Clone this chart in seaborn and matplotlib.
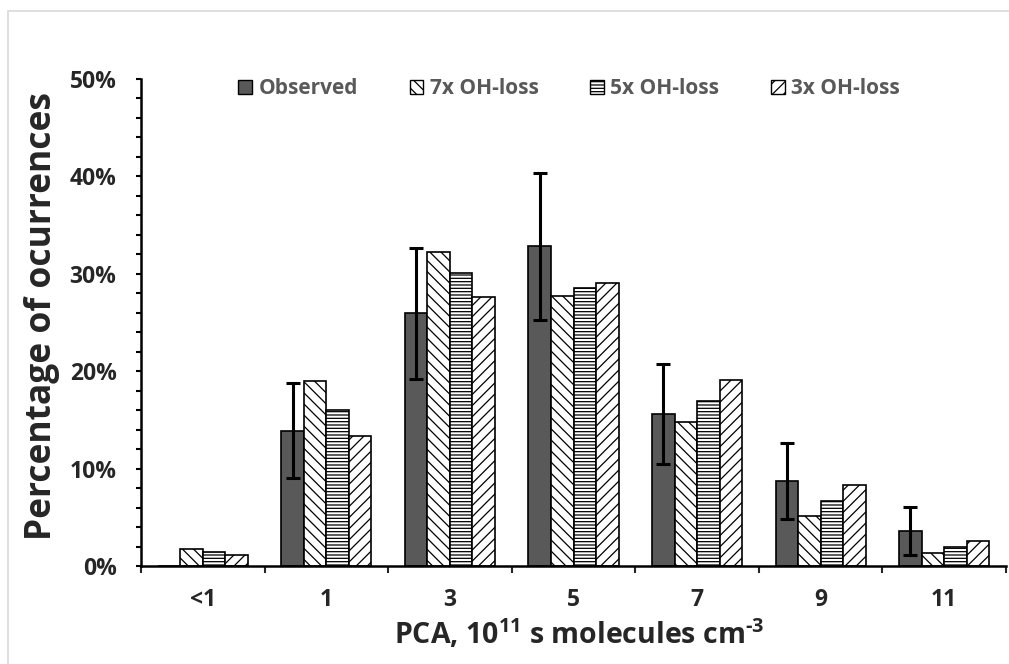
import numpy as np
import pandas as pd
import matplotlib
matplotlib.use("Agg")
import matplotlib.pyplot as plt
from matplotlib.patches import Patch, Rectangle
from matplotlib.ticker import MultipleLocator, FuncFormatter, FixedLocator
import seaborn as sns

categories = ["<1", "1", "3", "5", "7", "9", "11"]
series_names = ["Observed", "7x OH-loss", "5x OH-loss", "3x OH-loss"]
observed = [0.0, 13.9, 26.0, 32.9, 15.6, 8.7, 3.6]
oh7 = [1.7, 19.0, 32.2, 27.7, 14.8, 5.1, 1.3]
oh5 = [1.4, 16.0, 30.1, 28.5, 16.9, 6.7, 2.0]
oh3 = [1.1, 13.3, 27.6, 29.1, 19.1, 8.3, 2.6]
obs_err_low = [np.nan, 9.0, 19.2, 25.3, 10.5, 4.8, 1.1]
obs_err_high = [np.nan, 18.8, 32.7, 40.3, 20.7, 12.6, 6.1]

sns.set_style("white")
FONT = "Open Sans"
plt.rcParams["font.family"] = [FONT, "DejaVu Sans"]
plt.rcParams["font.weight"] = "bold"
plt.rcParams["mathtext.fontset"] = "custom"
plt.rcParams["mathtext.rm"] = f"{FONT}:bold"
plt.rcParams["mathtext.bf"] = f"{FONT}:bold"
plt.rcParams["mathtext.it"] = f"{FONT}:bold"
plt.rcParams["hatch.linewidth"] = 0.9

rows = []
for name, vals in zip(series_names, [observed, oh7, oh5, oh3]):
    for c, v in zip(categories, vals):
        rows.append({"cat": c, "series": name, "val": v / 100.0})
df = pd.DataFrame(rows)

fig = plt.figure(figsize=(10.09, 6.64), dpi=100)
ax = fig.add_axes([141 / 1009, 1 - 566 / 664, (1006 - 141) / 1009, (566 - 79) / 664])

fills = {"Observed": "#595959", "7x OH-loss": "white", "5x OH-loss": "white", "3x OH-loss": "white"}
hatches = ["", "\\\\\\", "-----", "///"]

sns.barplot(data=df, x="cat", y="val", hue="series", order=categories,
            hue_order=series_names, palette=fills, width=0.73,
            edgecolor="black", linewidth=1.2, saturation=1, ax=ax, legend=False)

for cont, h in zip(ax.containers, hatches):
    for p in cont:
        p.set_hatch(h)
        p.set_edgecolor("black")

# error bars on observed
obs_bars = ax.containers[0]
xs = [p.get_x() + p.get_width() / 2 for p in obs_bars]
lo = np.array(obs_err_low) / 100.0
hi = np.array(obs_err_high) / 100.0
ys = np.array(observed) / 100.0
mask = ~np.isnan(lo)
ax.errorbar(np.array(xs)[mask], ys[mask],
            yerr=[ys[mask] - lo[mask], hi[mask] - ys[mask]],
            fmt="none", ecolor="black", elinewidth=2.2, capsize=5, capthick=2.2, zorder=5)

ax.set_xlim(-0.5, len(categories) - 0.5)
ax.set_ylim(0, 0.5)
ax.yaxis.set_major_locator(MultipleLocator(0.1))
ax.yaxis.set_minor_locator(MultipleLocator(0.02))
ax.yaxis.set_major_formatter(FuncFormatter(lambda v, p: f"{v*100:.0f}%"))
ax.xaxis.set_minor_locator(FixedLocator(np.arange(-0.5, len(categories), 1.0)))

ax.tick_params(axis="y", which="both", direction="out", length=3.6, width=1.5, left=True,
               labelsize=16.5, pad=14, color="black")
ax.tick_params(axis="x", which="major", length=0, labelsize=16.5, pad=16)
ax.tick_params(axis="x", which="minor", direction="out", length=5, width=1.5, bottom=True)
for lab in ax.get_xticklabels() + ax.get_yticklabels():
    lab.set_fontweight("bold")

for s in ["top", "right"]:
    ax.spines[s].set_visible(False)
for s in ["left", "bottom"]:
    ax.spines[s].set_color("black")
    ax.spines[s].set_linewidth(1.8)

ax.set_xlabel(r"PCA, 10$^{11}$ s molecules cm$^{\text{-}3}$", fontsize=20.5, fontweight="bold")
ax.set_ylabel("Percentage of ocurrences", fontsize=25.5, fontweight="bold")
ax.yaxis.set_label_coords((60 - 141) / 865, (566 - 316.5) / 487)
ax.xaxis.set_label_coords((579 - 141) / 865, (566 - 617) / 487)

handles = [Patch(facecolor=fills[n], edgecolor="black", hatch=h, linewidth=1.0)
           for n, h in zip(series_names, hatches)]
leg = ax.legend(handles, series_names, loc="center", bbox_to_anchor=(0.495, 0.98),
                ncol=4, frameon=False, fontsize=15, handlelength=0.65, handleheight=0.65,
                handletextpad=0.3, columnspacing=2.5)
for t in leg.get_texts():
    t.set_color("#595959")
    t.set_fontweight("bold")

fig.patches.append(Rectangle((8 / 1009, -0.1), 1.2, 1 - 11 / 664 + 0.1, transform=fig.transFigure,
                             fill=False, edgecolor="#d9d9d9", linewidth=1.2, zorder=-1))

fig.savefig("out.png", dpi=100)
